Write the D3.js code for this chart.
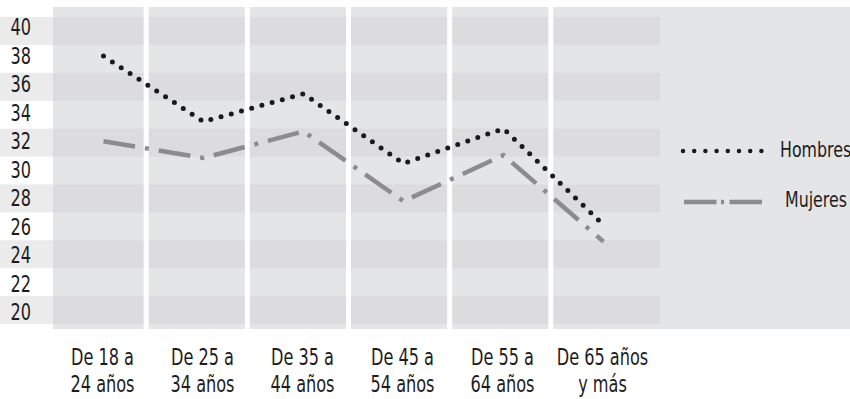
<!DOCTYPE html>
<html lang="es">
<head>
  <meta charset="UTF-8">
  <title>Hombres y Mujeres por edad</title>
  <script src="https://d3js.org/d3.v7.min.js"></script>
  <style>
    body {
      margin: 0;
      background: #fff;
    }
    svg {
      display: block;
      font-family: "Liberation Sans Narrow", "DejaVu Sans Condensed", sans-serif;
    }
    .tick-label, .cat-label, .legend-label {
      fill: #1f1c1d;
    }
  </style>
</head>
<body>
  <svg width="850" height="399"></svg>

  <script>
    // data
    const categories = ["De 18 a 24 años", "De 25 a 34 años", "De 35 a 44 años",
                        "De 45 a 54 años", "De 55 a 64 años", "De 65 años y más"];
    const catLines = [["De 18 a", "24 años"], ["De 25 a", "34 años"], ["De 35 a", "44 años"],
                      ["De 45 a", "54 años"], ["De 55 a", "64 años"], ["De 65 años", "y más"]];
    const hombres = [38.2, 33.5, 35.5, 30.5, 33.0, 26.1];
    const mujeres = [32.1, 30.9, 32.8, 27.8, 31.1, 24.9];
    const yTicks = [40, 38, 36, 34, 32, 30, 28, 26, 24, 22, 20];

    const svg = d3.select("svg");
    const panelColor = "#e4e5e7";
    const bandColor = "#dcdcde";
    const labelBand = "#ebebeb";
    const squeeze = 0.78; // the fallback font is wider than the original condensed face

    const x = d3.scalePoint().domain(categories).range([103.5, 603.5]);
    const cols = d3.scaleBand().domain(categories).range([45, 652]);
    const y = d3.scaleLinear().domain([41, 19]).range([17, 324]);
    const yLabel = d3.scaleLinear().domain([40, 20]).range([35, 320]);

    // background panel
    svg.append("rect")
      .attr("x", 53).attr("y", 7)
      .attr("width", 797).attr("height", 322)
      .attr("fill", panelColor);

    // darker row behind every other tick (40, 36, 32 ...)
    const shaded = yTicks.filter((d, i) => i % 2 === 0);
    const bands = svg.append("g");
    bands.selectAll(".lb")
      .data(shaded)
      .join("rect")
      .attr("class", "lb")
      .attr("x", 0)
      .attr("y", d => y(d + 1))
      .attr("width", 53)
      .attr("height", d => y(d - 1) - y(d + 1))
      .attr("fill", labelBand);
    bands.selectAll(".pb")
      .data(shaded)
      .join("rect")
      .attr("class", "pb")
      .attr("x", 53)
      .attr("y", d => y(d + 1))
      .attr("width", 607)
      .attr("height", d => y(d - 1) - y(d + 1))
      .attr("fill", bandColor);

    // white column separators
    svg.append("g").selectAll("rect")
      .data(categories.slice(0, -1))
      .join("rect")
      .attr("x", d => cols(d) + cols.bandwidth() - 2.5)
      .attr("y", 7)
      .attr("width", 5)
      .attr("height", 322)
      .attr("fill", "#fff");

    // y tick labels
    svg.append("g").selectAll("text")
      .data(yTicks)
      .join("text")
      .attr("class", "tick-label")
      .attr("transform", d => `translate(31,${yLabel(d)}) scale(${squeeze},1)`)
      .attr("text-anchor", "end")
      .attr("font-size", 23)
      .text(d => d);

    // category labels
    const cat = svg.append("g").selectAll("g")
      .data(categories)
      .join("g")
      .attr("transform", d => `translate(${x(d) - 1},0) scale(${squeeze},1)`);
    cat.append("text")
      .attr("class", "cat-label")
      .attr("text-anchor", "middle")
      .attr("font-size", 23)
      .selectAll("tspan")
      .data((d, i) => catLines[i])
      .join("tspan")
      .attr("x", 0)
      .attr("y", (d, j) => 365 + j * 27.5)
      .text(d => d);

    // lines
    const line = d3.line()
      .x((d, i) => x(categories[i]))
      .y(d => y(d));

    svg.append("path")
      .datum(mujeres)
      .attr("d", line)
      .attr("fill", "none")
      .attr("stroke", "#8c8c8c")
      .attr("stroke-width", 4.5)
      .attr("stroke-dasharray", "32,10,4,10");

    svg.append("path")
      .datum(hombres)
      .attr("d", line)
      .attr("fill", "none")
      .attr("stroke", "#1a1a1a")
      .attr("stroke-width", 5)
      .attr("stroke-linecap", "round")
      .attr("stroke-dasharray", "0,10.6");

    // legend
    const legend = svg.append("g");
    legend.append("line")
      .attr("x1", 683).attr("x2", 762)
      .attr("y1", 151).attr("y2", 151)
      .attr("stroke", "#1a1a1a")
      .attr("stroke-width", 4.5)
      .attr("stroke-linecap", "round")
      .attr("stroke-dasharray", "0,11.2");
    legend.append("text")
      .attr("class", "legend-label")
      .attr("transform", `translate(780,157) scale(0.8,1)`)
      .attr("font-size", 22)
      .text("Hombres");
    legend.append("line")
      .attr("x1", 684).attr("x2", 762)
      .attr("y1", 202).attr("y2", 202)
      .attr("stroke", "#8c8c8c")
      .attr("stroke-width", 4.5)
      .attr("stroke-dasharray", "32.5,4.5,3,5.5");
    legend.append("text")
      .attr("class", "legend-label")
      .attr("transform", `translate(785,207) scale(0.8,1)`)
      .attr("font-size", 22)
      .text("Mujeres");
  </script>
</body>
</html>
